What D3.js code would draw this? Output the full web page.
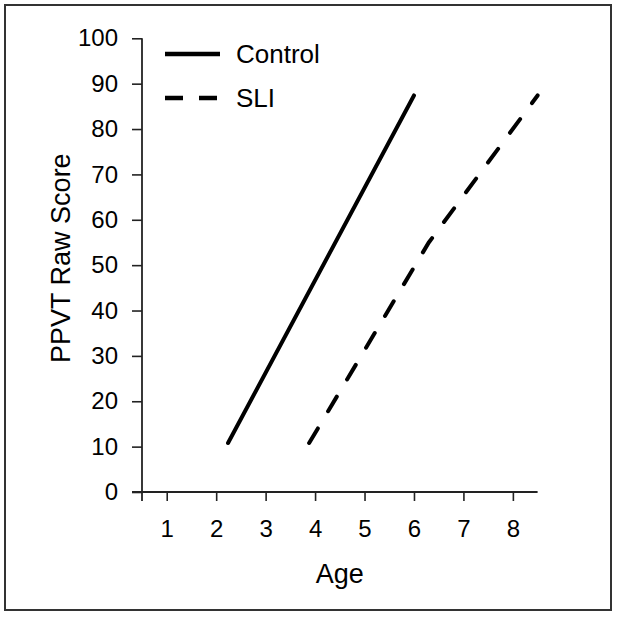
<!DOCTYPE html>
<html>
<head>
<meta charset="utf-8">
<script src="https://cdn.jsdelivr.net/npm/d3@7"></script>
<style>
  body { margin: 0; background: #fff; }
  svg { display: block; font-family: "Liberation Sans", Arial, sans-serif; }
</style>
</head>
<body>
<div id="chart"></div>
<script>
const ageTicks = [1, 2, 3, 4, 5, 6, 7, 8];
const scoreTicks = [0, 10, 20, 30, 40, 50, 60, 70, 80, 90, 100];
const seriesNames = ["Control", "SLI"];
const controlPoints = [[2.24, 10.8], [6.0, 87.4]];
const sliPoints = [[3.88, 10.8], [6.3, 55], [8.5, 87.4]];

const width = 617, height = 617;
const svg = d3.select("#chart").append("svg")
    .attr("width", width)
    .attr("height", height);

// outer frame
svg.append("rect")
    .attr("x", 5).attr("y", 5)
    .attr("width", 606).attr("height", 605)
    .attr("fill", "none")
    .attr("stroke", "#333")
    .attr("stroke-width", 2);

const x = d3.scaleLinear().domain([0.5, 8.5]).range([142, 537.6]);
const y = d3.scaleLinear().domain([0, 100]).range([492, 38.3]);

const yAxis = svg.append("g")
    .attr("transform", `translate(${x(0.5)},0)`)
    .call(d3.axisLeft(y).tickValues(scoreTicks).tickSize(10).tickPadding(14).tickSizeOuter(0));
yAxis.select(".domain").remove();
yAxis.selectAll("line").attr("stroke", "#222").attr("stroke-width", 1.6);
yAxis.selectAll("text").attr("font-size", 24).attr("fill", "#000").style("font-family", "inherit");

const xAxis = svg.append("g")
    .attr("transform", `translate(0,${y(0)})`)
    .call(d3.axisBottom(x).tickValues(ageTicks).tickSize(9).tickPadding(19).tickSizeOuter(0));
xAxis.select(".domain").remove();
xAxis.selectAll("line").attr("stroke", "#222").attr("stroke-width", 1.6);
xAxis.selectAll("text").attr("font-size", 24).attr("fill", "#000").style("font-family", "inherit");

// axis lines, crossing past the origin like the original
svg.append("line")
    .attr("x1", x(0.5)).attr("x2", x(0.5))
    .attr("y1", y(100)).attr("y2", y(0) + 9)
    .attr("stroke", "#222").attr("stroke-width", 1.8);
svg.append("line")
    .attr("x1", x(0.5) - 10).attr("x2", x(8.5))
    .attr("y1", y(0)).attr("y2", y(0))
    .attr("stroke", "#222").attr("stroke-width", 1.8);

// axis titles
svg.append("text")
    .attr("x", (x(0.5) + x(8.5)) / 2)
    .attr("y", 583)
    .attr("text-anchor", "middle")
    .attr("font-size", 27)
    .attr("fill", "#000")
    .text("Age");
svg.append("text")
    .attr("transform", `translate(70,${(y(0) + y(100)) / 2 - 7}) rotate(-90)`)
    .attr("text-anchor", "middle")
    .attr("font-size", 27)
    .attr("fill", "#000")
    .text("PPVT Raw Score");

const line = d3.line().x(d => x(d[0])).y(d => y(d[1]));
const dash = "17,20";

svg.append("path")
    .datum(controlPoints)
    .attr("d", line)
    .attr("fill", "none")
    .attr("stroke", "#000")
    .attr("stroke-width", 4)
    .attr("stroke-linecap", "round");

svg.append("path")
    .datum(sliPoints)
    .attr("d", line)
    .attr("fill", "none")
    .attr("stroke", "#000")
    .attr("stroke-width", 4)
    .attr("stroke-linecap", "round")
    .attr("stroke-dasharray", dash);

// legend
const legend = svg.append("g").attr("transform", "translate(165,54)");
seriesNames.forEach((name, i) => {
  const g = legend.append("g").attr("transform", `translate(0,${i * 44})`);
  g.append("line")
      .attr("x1", 0).attr("x2", 55)
      .attr("stroke", "#000")
      .attr("stroke-width", 4.5)
      .attr("stroke-dasharray", i === 1 ? "18,16" : null);
  g.append("text")
      .attr("x", 71)
      .attr("y", 9)
      .attr("font-size", 26)
      .attr("fill", "#000")
      .text(name);
});
</script>
</body>
</html>
